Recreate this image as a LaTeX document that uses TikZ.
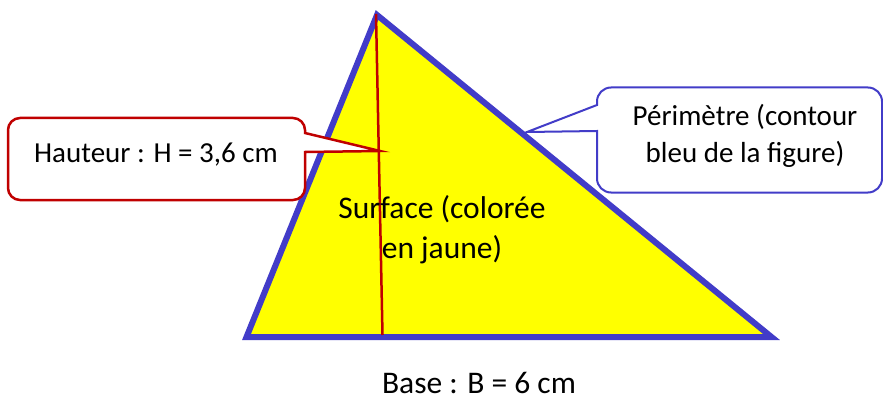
\documentclass[tikz,border=0pt]{standalone}
\usepackage{fontspec}
\setmainfont{Carlito}
\definecolor{triblue}{RGB}{66,60,200}
\definecolor{hred}{RGB}{192,0,0}
\definecolor{tyellow}{RGB}{255,255,0}
\tikzset{
  small/.style={font=\fontsize{29}{36}\selectfont, inner sep=0pt, anchor=base, text=black},
  big/.style={font=\fontsize{31.5}{38}\selectfont, inner sep=0pt, anchor=base, text=black},
  tri/.style={draw=triblue, fill=tyellow, line width=6pt, line join=miter},
  heightline/.style={draw=hred, line width=2.5pt},
  redcall/.style={draw=hred, fill=white, line width=2.5pt, line join=miter},
  bluecall/.style={draw=triblue, fill=white, line width=2pt, line join=miter},
}
\begin{document}
\begin{tikzpicture}[x=1pt,y=-1pt]
\useasboundingbox (0,0) rectangle (883,401);
\fill[white] (0,0) rectangle (883,401);
% triangle
\coordinate (A) at (377,15);
\coordinate (L) at (246.5,337);
\coordinate (R) at (771.5,337);
\draw[tri] (A) -- (L) -- (R) -- cycle;
% height
\coordinate (htop) at (376,14);
\coordinate (hfoot) at (382.5,335);
\draw[heightline] (htop) -- (hfoot);
% surface text
\node[big] (surf1) at (442,218) {Surface (colorée};
\node[big] (surf2) at (442,258) {en jaune)};
% hauteur callout
\coordinate (htip) at (380,151);
\draw[redcall] (305,152) -- (305,188) .. controls (305,194.6) and (299.6,200) .. (293,200)
  -- (20,200) .. controls (13.4,200) and (8,194.6) .. (8,188)
  -- (8,130) .. controls (8,123.4) and (13.4,118) .. (20,118)
  -- (293,118) .. controls (299.6,118) and (305,123.4) .. (305,130)
  -- (305,133) -- (htip) -- cycle;
\node[small] (haut) at (156,162) {Hauteur : H = 3,6 cm};
% perimetre callout
\coordinate (ptip) at (527,132);
\draw[bluecall] (597,105) -- (ptip) -- (597,131)
  -- (597,178.5) .. controls (597,186.2) and (603.3,192.5) .. (611,192.5)
  -- (868,192.5) .. controls (875.7,192.5) and (882,186.2) .. (882,178.5)
  -- (882,101.5) .. controls (882,93.8) and (875.7,87.5) .. (868,87.5)
  -- (611,87.5) .. controls (603.3,87.5) and (597,93.8) .. (597,101.5)
  -- cycle;
\node[small] (per1) at (745,125) {Périmètre (contour};
\node[small] (per2) at (745,162) {bleu de la figure)};
% base text
\node[big] (base) at (479,393) {Base : B = 6 cm};
\end{tikzpicture}
\end{document}
